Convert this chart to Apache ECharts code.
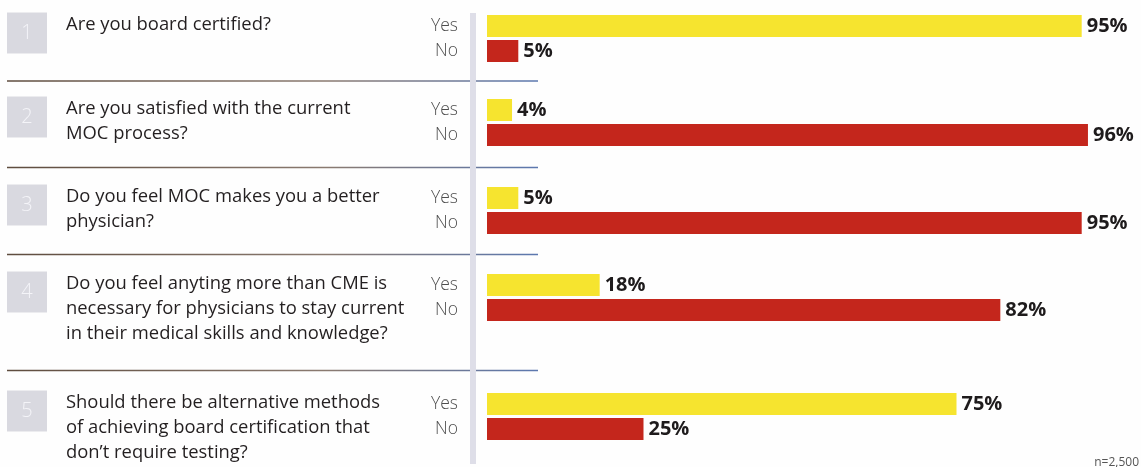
<!DOCTYPE html>
<html>
<head>
<meta charset="utf-8">
<script src="https://cdn.jsdelivr.net/npm/echarts@6/dist/echarts.min.js"></script>
<style>
html,body{margin:0;padding:0;background:#fefefe;}
#chart{width:1141px;height:467px;}
</style>
</head>
<body>
<div id="chart"></div>
<script>
const questions = [
  "Are you board certified?",
  "Are you satisfied with the current\nMOC process?",
  "Do you feel MOC makes you a better\nphysician?",
  "Do you feel anyting more than CME is\nnecessary for physicians to stay current\nin their medical skills and knowledge?",
  "Should there be alternative methods\nof achieving board certification that\ndon\u2019t require testing?"
];
const numberLabels = ["1", "2", "3", "4", "5"];
const answerLabels = ["Yes", "No"];
const yesValues = [95, 4, 5, 18, 75];
const noValues = [5, 96, 95, 82, 25];
const sampleNote = "n=2,500";

const YELLOW = "#f6e42f";
const RED = "#c4261c";
const gridTops = [13.5, 97.5, 185.5, 272.5, 391.5];
const dividerYs = [81, 167.5, 254.5, 370.5];

const chart = echarts.init(document.getElementById('chart'));
const grids = [], xAxes = [], yAxes = [], series = [], graphics = [];

questions.forEach((q, i) => {
  grids.push({left: 487, right: 28, top: gridTops[i], height: 50});
  xAxes.push({type: 'value', gridIndex: i, min: 0, max: 100, show: false});
  yAxes.push({
    type: 'category', gridIndex: i, data: answerLabels, inverse: true,
    axisLine: {show: false}, axisTick: {show: false}, splitLine: {show: false},
    axisLabel: {color: '#4d4d4d', fontSize: 17.5, fontFamily: 'Open Sans', fontWeight: 300, margin: 29}
  });
  series.push({
    type: 'bar', xAxisIndex: i, yAxisIndex: i, barWidth: 22, silent: true,
    data: [
      {value: yesValues[i], itemStyle: {color: YELLOW}},
      {value: noValues[i], itemStyle: {color: RED}}
    ],
    label: {
      show: true, position: 'right', distance: 5,
      formatter: p => p.value + '%',
      color: '#1e1b1c', fontSize: 20, fontWeight: 'bold', fontFamily: 'Open Sans'
    }
  });
  // number box
  graphics.push({
    type: 'rect', left: 7, top: gridTops[i] - 1, shape: {width: 40, height: 41},
    style: {fill: '#d9d9e0'}, z: 1
  });
  graphics.push({
    type: 'text', x: 27, y: gridTops[i] + 20,
    style: {text: numberLabels[i], fill: '#f4f4f8', font: '300 20px "Open Sans"', align: 'center', verticalAlign: 'middle'},
    z: 2
  });
  graphics.push({
    type: 'text', left: 66, top: gridTops[i] - 1,
    style: {text: q, fill: '#231f20', font: '18.4px "Open Sans"', lineHeight: 25}
  });
});

dividerYs.forEach(y => {
  graphics.push({
    type: 'line', shape: {x1: 7, y1: y, x2: 538, y2: y},
    style: {
      lineWidth: 1.5,
      stroke: new echarts.graphic.LinearGradient(0, 0, 1, 0, [
        {offset: 0, color: '#5e4c3e'},
        {offset: 0.6, color: '#8a7a70'},
        {offset: 1, color: '#5b78b0'}
      ])
    }, z: 1
  });
});

graphics.push({
  type: 'rect', left: 470, top: 13, shape: {width: 6, height: 451},
  style: {fill: '#dedee8'}, z: 3
});
graphics.push({
  type: 'text', right: 2, top: 457,
  style: {text: sampleNote, fill: '#555', font: '12px "Open Sans"'}
});

chart.setOption({
  animation: false,
  backgroundColor: '#fefefe',
  grid: grids, xAxis: xAxes, yAxis: yAxes, series: series,
  graphic: graphics
});
</script>
</body>
</html>
